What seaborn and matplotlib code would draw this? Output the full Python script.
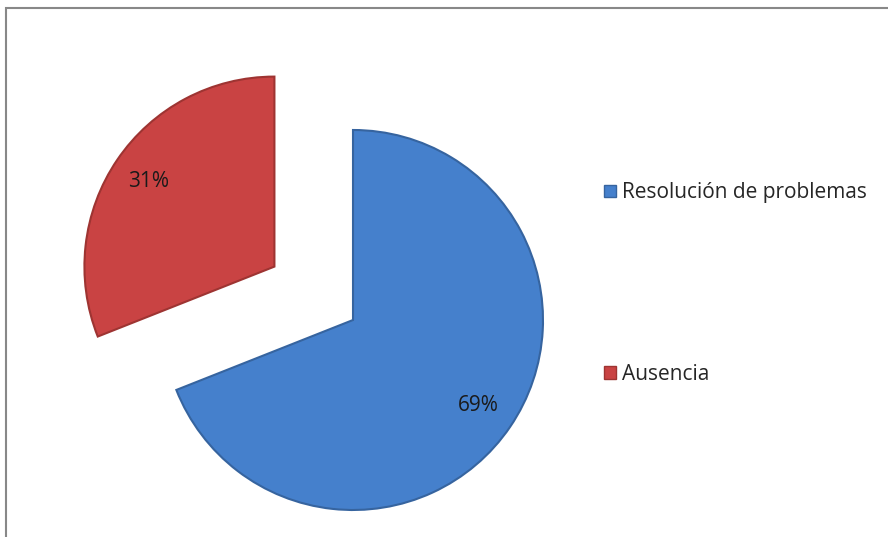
import matplotlib
matplotlib.use("Agg")
import matplotlib.pyplot as plt
import seaborn as sns
from matplotlib.patches import Rectangle, Patch

labels = ["Resolución de problemas", "Ausencia"]
values = [69, 31]
colors = ["#4580CC", "#C94343"]
edges = ["#36649F", "#9E3432"]

sns.set_theme(style="white")
plt.rcParams['font.family'] = ['Open Sans', 'DejaVu Sans']

W, H = 888, 537
fig = plt.figure(figsize=(W / 100, H / 100), dpi=100)
ax = fig.add_axes([0, 0, 1, 1])

wedges, texts, autotexts = ax.pie(
    values,
    startangle=90,
    counterclock=False,
    explode=[0, 0.5],
    colors=colors,
    radius=1.0,
    autopct=lambda p: f"{p:.0f}%",
    pctdistance=0.8,
    textprops={'fontsize': 15, 'color': '#1a1a1a'},
    wedgeprops={'linewidth': 1.5},
)
for w, ec in zip(wedges, edges):
    w.set_edgecolor(ec)

# place pie centre at pixel (353, 320) with radius 190 px
r_px, cx, cy = 190, 353, 320
ax.set_xlim(-cx / r_px, (W - cx) / r_px)
ax.set_ylim(-(H - cy) / r_px, cy / r_px)
ax.set_aspect('auto')
ax.axis('off')

handles = [Patch(facecolor=c, edgecolor=e, label=l) for c, e, l in zip(colors, edges, labels)]
fig.legend(
    handles=handles,
    loc='upper left',
    bbox_to_anchor=(594 / W, 1 - 172 / H),
    frameon=False,
    fontsize=15,
    handlelength=0.55,
    handleheight=0.55,
    handletextpad=0.3,
    labelspacing=7.7,
    borderpad=0,
)

# outer chart frame (right and bottom edges fall outside the picture)
fig.patches.append(Rectangle(
    (6 / W, -0.1), 1.2, 1.1 - 8 / H,
    transform=fig.transFigure, fill=False,
    edgecolor='#888888', linewidth=1.5, clip_on=False,
))

fig.savefig("out.png", dpi=100, facecolor='white')
